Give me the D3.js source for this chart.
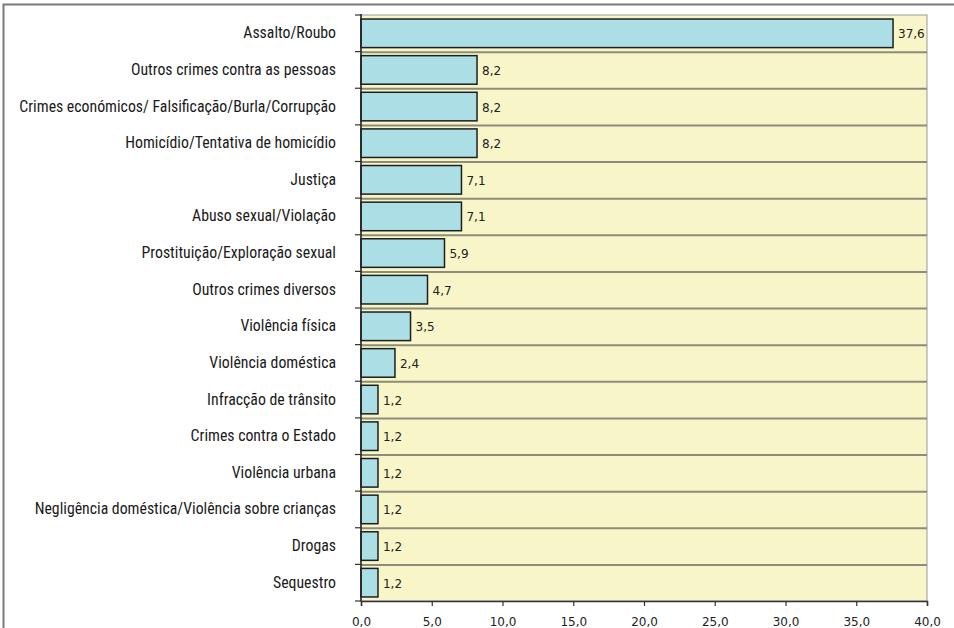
<!DOCTYPE html>
<html>
<head>
<meta charset="utf-8">
<script src="https://cdn.jsdelivr.net/npm/d3@7"></script>
<style>
  html, body { margin: 0; padding: 0; background: #fff; }
  svg { display: block; }
</style>
</head>
<body>
<svg id="chart" width="954" height="628"></svg>
<script>
// Categories (top to bottom) and their percentages
const categories = [
  "Assalto/Roubo",
  "Outros crimes contra as pessoas",
  "Crimes económicos/ Falsificação/Burla/Corrupção",
  "Homicídio/Tentativa de homicídio",
  "Justiça",
  "Abuso sexual/Violação",
  "Prostituição/Exploração sexual",
  "Outros crimes diversos",
  "Violência física",
  "Violência doméstica",
  "Infracção de trânsito",
  "Crimes contra o Estado",
  "Violência urbana",
  "Negligência doméstica/Violência sobre crianças",
  "Drogas",
  "Sequestro"
];
const values = [37.6, 8.2, 8.2, 8.2, 7.1, 7.1, 5.9, 4.7, 3.5, 2.4, 1.2, 1.2, 1.2, 1.2, 1.2, 1.2];
const xTicks = [0, 5, 10, 15, 20, 25, 30, 35, 40];

const svg = d3.select("#chart");
const fmt = v => d3.format(".1f")(v).replace(".", ",");

const plotLeft = 361, plotRight = 927, plotTop = 15, plotBottom = 601;

// outer frame (top and left edges)
svg.append("path")
  .attr("d", `M3.5,628 V4.5 H954`)
  .attr("fill", "none")
  .attr("stroke", "#7a7a7a")
  .attr("stroke-width", 2);

const x = d3.scaleLinear().domain([0, 40]).range([plotLeft, plotRight]);
const y = d3.scaleBand().domain(categories).range([plotTop, plotBottom]).paddingInner(0.22).paddingOuter(0.11);
const row = d3.scaleBand().domain(categories).range([plotTop, plotBottom]);

// plot background
svg.append("rect")
  .attr("x", plotLeft).attr("y", plotTop)
  .attr("width", plotRight - plotLeft).attr("height", plotBottom - plotTop)
  .attr("fill", "#f8f6c8")
  .attr("stroke", "#9a9a9a").attr("stroke-width", 1);

// row separators
svg.append("g").selectAll("line")
  .data(categories.slice(1))
  .join("line")
  .attr("x1", plotLeft).attr("x2", plotRight)
  .attr("y1", d => row(d) + 0.5).attr("y2", d => row(d) + 0.5)
  .attr("stroke", "#8c8c78").attr("stroke-width", 2);

// bars
svg.append("g").selectAll("rect")
  .data(categories)
  .join("rect")
  .attr("x", x(0))
  .attr("y", d => y(d))
  .attr("width", (d, i) => x(values[i]) - x(0))
  .attr("height", y.bandwidth())
  .attr("fill", "#acdee6")
  .attr("stroke", "#1e1e1e").attr("stroke-width", 1.5);

// value labels
svg.append("g").selectAll("text")
  .data(categories)
  .join("text")
  .attr("x", (d, i) => x(values[i]) + 5)
  .attr("y", d => y(d) + y.bandwidth() / 2 + 5)
  .attr("font-family", "DejaVu Sans, Verdana, sans-serif")
  .attr("font-size", 12)
  .attr("fill", "#222")
  .text((d, i) => fmt(values[i]));

// left axis: category boundary ticks + labels
const tickBounds = categories.map(c => row(c)).concat([plotBottom]);
svg.append("g").selectAll("line")
  .data(tickBounds)
  .join("line")
  .attr("x1", plotLeft - 6).attr("x2", plotLeft)
  .attr("y1", d => d).attr("y2", d => d)
  .attr("stroke", "#333").attr("stroke-width", 1.2);
svg.append("line")
  .attr("x1", plotLeft).attr("x2", plotLeft).attr("y1", plotTop - 1).attr("y2", plotBottom)
  .attr("stroke", "#222").attr("stroke-width", 1.5);

svg.append("g").selectAll("text")
  .data(categories)
  .join("text")
  .attr("x", plotLeft - 25)
  .attr("y", d => row(d) + row.bandwidth() / 2 + 5)
  .attr("text-anchor", "end")
  .attr("font-family", "Liberation Sans Narrow, Arial Narrow, Roboto Condensed, sans-serif")
  .attr("font-size", 15.8)
  .attr("fill", "#1a1a1a")
  .text(d => d);

// bottom axis
const xAxis = svg.append("g")
  .attr("transform", `translate(0,${plotBottom})`)
  .call(d3.axisBottom(x).tickValues(xTicks).tickSize(5).tickFormat(fmt));
xAxis.select(".domain").attr("stroke", "#333").attr("stroke-width", 1.5);
xAxis.selectAll(".tick line").attr("stroke", "#333").attr("stroke-width", 1.2);
xAxis.selectAll(".tick text")
  .attr("dy", "1.1em")
  .attr("y", 12)
  .attr("font-family", "DejaVu Sans, Verdana, sans-serif")
  .attr("font-size", 12)
  .attr("fill", "#222");
</script>
</body>
</html>
